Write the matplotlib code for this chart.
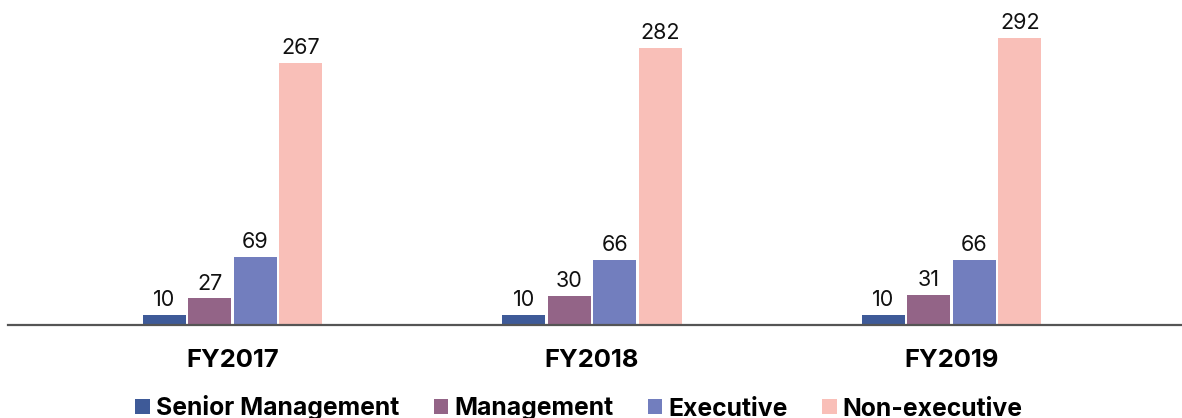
import numpy as np
import matplotlib.pyplot as plt
from matplotlib.patches import Patch

plt.rcParams['font.family'] = ['Inter', 'DejaVu Sans']

years = ['FY2017', 'FY2018', 'FY2019']
categories = ['Senior Management', 'Management', 'Executive', 'Non-executive']
senior = [10, 10, 10]
management = [27, 30, 31]
executive = [69, 66, 66]
non_executive = [267, 282, 292]
colors = ['#3E5A98', '#936487', '#727EBE', '#F9BFB8']

series = [senior, management, executive, non_executive]

fig = plt.figure(figsize=(11.82, 4.18), dpi=100)
ax = fig.add_axes([8 / 1182, 93 / 418, 1 - 8 / 1182, 325 / 418])

x = np.arange(len(years))
width = 0.12
step = 0.1266
offsets = (np.arange(len(categories)) - 1.5) * step

for vals, off, c in zip(series, offsets, colors):
    bars = ax.bar(x + off, vals, width=width, color=c)
    for b, v in zip(bars, vals):
        ax.text(b.get_x() + b.get_width() / 2, v + 5, str(v),
                ha='center', va='bottom', fontsize=15.5, color='#111111')

ax.set_xlim(-0.6245, 2.641)
ax.set_ylim(0, 330.6)
ax.set_xticks(x)
ax.set_xticklabels(years, fontsize=18.4, fontweight='bold')
ax.tick_params(axis='x', length=0, pad=17)
ax.set_yticks([])
for s in ['top', 'left', 'right']:
    ax.spines[s].set_visible(False)
ax.spines['bottom'].set_color('#555555')
ax.spines['bottom'].set_linewidth(1.6)

handles = [Patch(facecolor=c, label=l) for c, l in zip(colors, categories)]
fig.legend(handles=handles, loc='center', bbox_to_anchor=(579 / 1182, 1 - 408 / 418),
           ncol=4, frameon=False, prop={'size': 17.8, 'weight': 'bold'},
           handlelength=0.58, handleheight=0.58, handletextpad=0.25, columnspacing=1.4)

fig.savefig('out.png', dpi=100)
